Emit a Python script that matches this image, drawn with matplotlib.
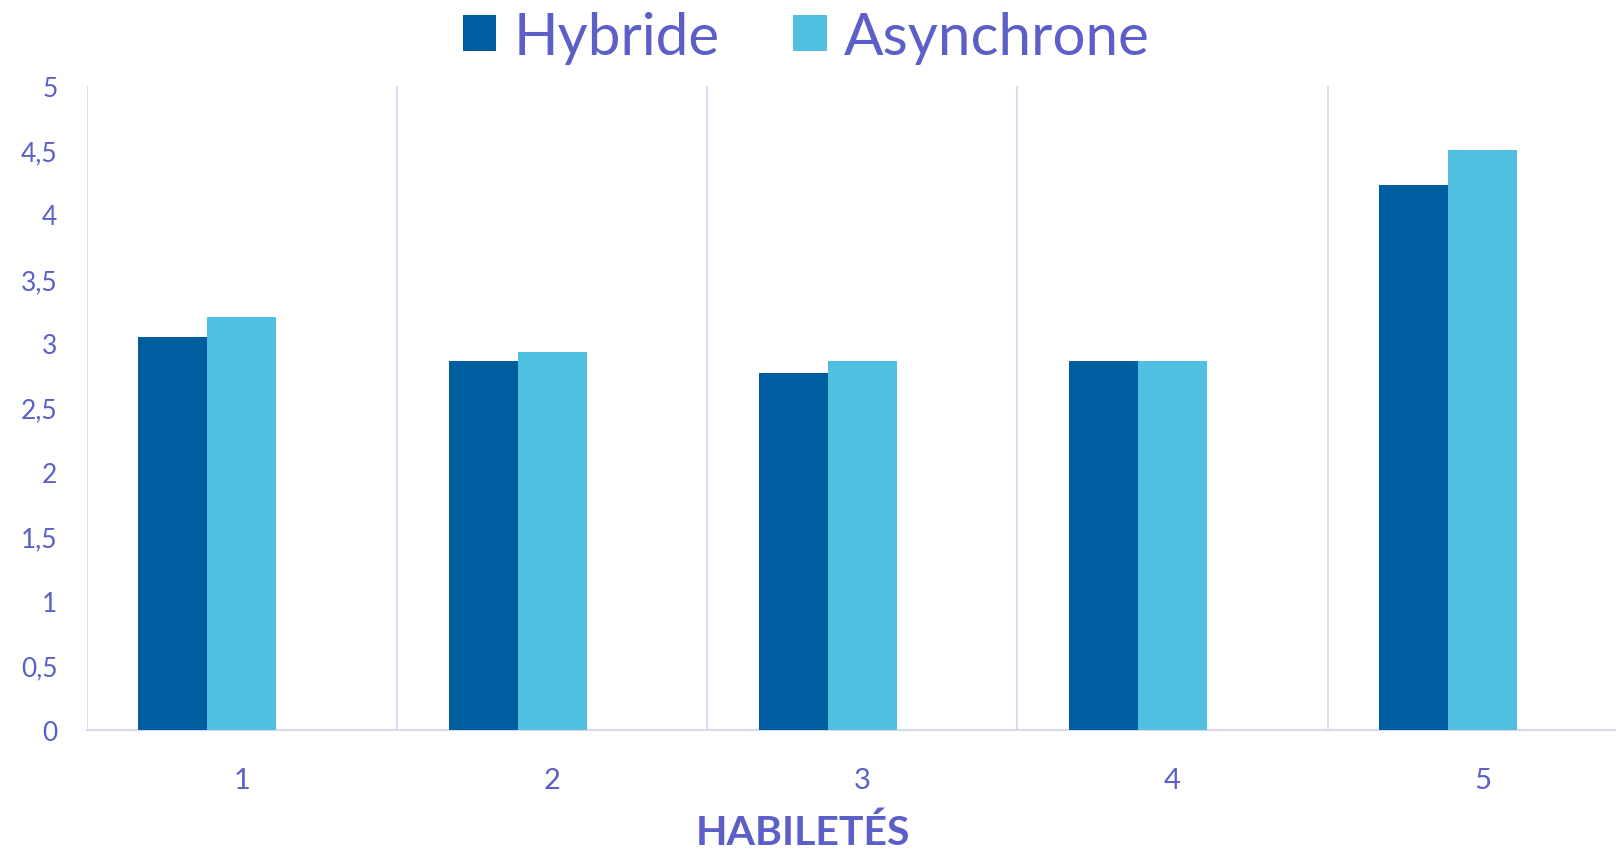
import matplotlib.pyplot as plt
import numpy as np

plt.rcParams['font.family'] = ['Lato', 'DejaVu Sans']

# data
categories = ['1', '2', '3', '4', '5']
hybride = [3.05, 2.86, 2.77, 2.86, 4.23]
asynchrone = [3.2, 2.93, 2.86, 2.86, 4.5]
yticks = [0, 0.5, 1, 1.5, 2, 2.5, 3, 3.5, 4, 4.5, 5]
ytick_labels = [f'{v:g}'.replace('.', ',') for v in yticks]

txt_col = '#5B5FC7'
grid_col = '#D9D9F0'
c_hyb = '#005DA0'
c_asy = '#4FC0DF'

fig = plt.figure(figsize=(16.16, 8.54), dpi=100)
# plot area runs past the right edge, like the cropped original
ax = fig.add_axes([0.0536, 0.1444, 0.960, 0.7542])

x = np.arange(len(categories))
w = 1 / 4.5  # three slots per category, 150% gap
ax.bar(x - w, hybride, w, color=c_hyb, label='Hybride', zorder=3)
ax.bar(x, asynchrone, w, color=c_asy, label='Asynchrone', zorder=3)

ax.set_xlim(-0.5, len(categories) - 0.5)
ax.set_ylim(0, 5)

ax.set_xticks(x)
ax.set_xticklabels(categories)
ax.set_xticks(np.arange(-0.5, len(categories), 1), minor=True)
ax.grid(True, axis='x', which='minor', color=grid_col, lw=1.3, zorder=0)
ax.grid(False, axis='y')
ax.set_yticks(yticks)
ax.set_yticklabels(ytick_labels)
ax.tick_params(axis='both', which='both', length=0, colors=txt_col)
ax.tick_params(axis='y', labelsize=19, pad=21)
ax.tick_params(axis='x', labelsize=21, pad=27)

for s in ['top', 'right', 'left']:
    ax.spines[s].set_visible(False)
ax.spines['bottom'].set_color(grid_col)
ax.spines['bottom'].set_linewidth(1.5)

# axis title sits at the centre of the visible picture
fig.text(0.497, 0.024, 'HABILETÉS', color=txt_col, fontsize=29.5,
         fontweight='bold', ha='center', va='center')

leg = fig.legend(loc='upper center', bbox_to_anchor=(0.499, 1.048), ncol=2,
                 frameon=False, fontsize=42, handlelength=0.58, handleheight=0.58,
                 handletextpad=0.3, columnspacing=1.25)
for t in leg.get_texts():
    t.set_color(txt_col)

fig.savefig('out.png', dpi=100)
